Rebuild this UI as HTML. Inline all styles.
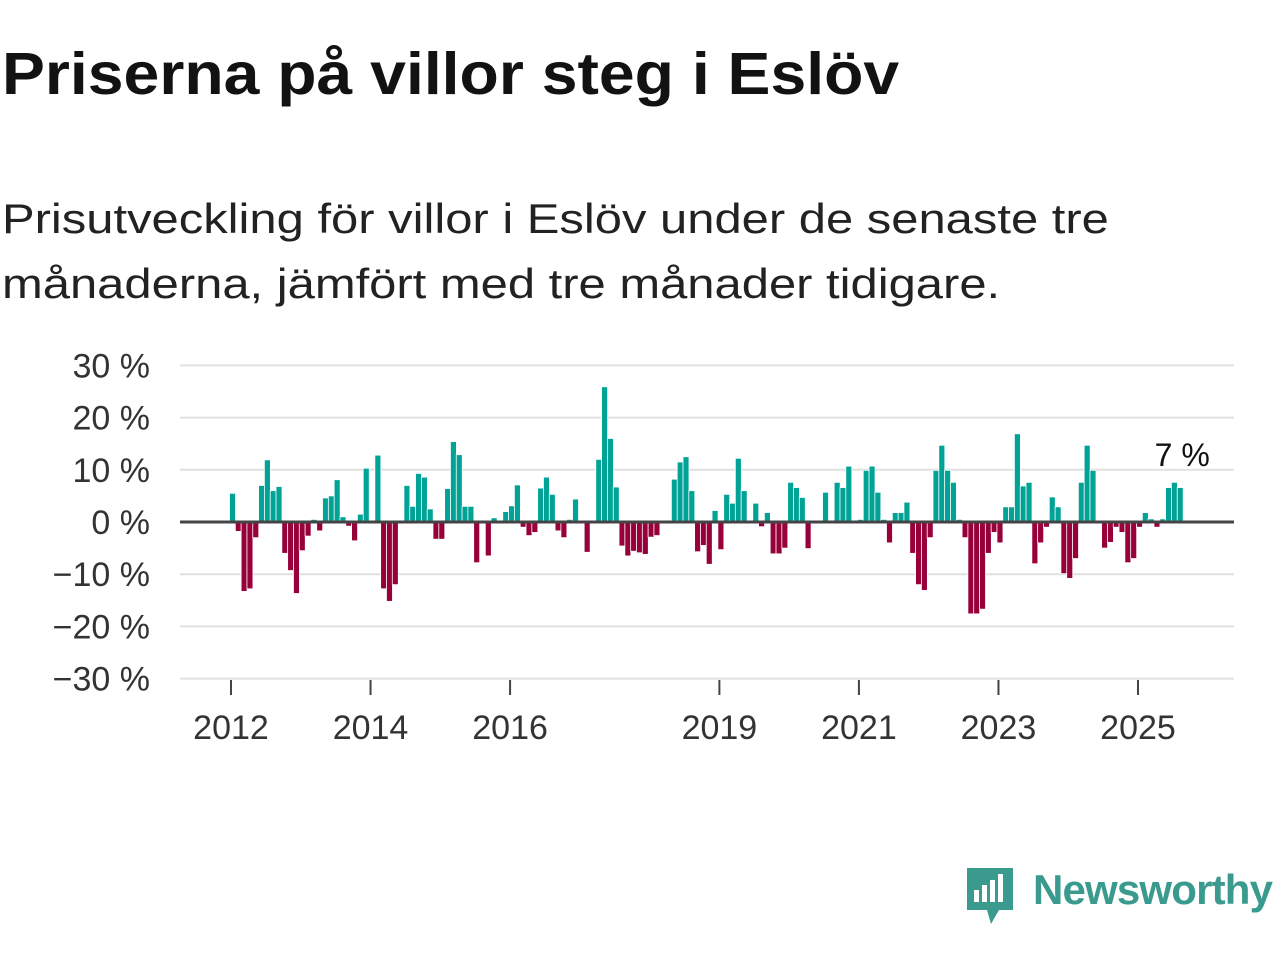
<!DOCTYPE html>
<html><head><meta charset="utf-8"><style>
body{margin:0;width:1280px;height:960px;background:#fff;font-family:"Liberation Sans",sans-serif;overflow:hidden;position:relative}
h1{position:absolute;left:2px;top:40px;margin:0;font-size:59px;font-weight:bold;color:#121212;transform:scaleX(1.09);transform-origin:left top;white-space:nowrap}
.sub{position:absolute;left:2px;top:186px;margin:0;font-size:42px;line-height:65px;color:#222;transform:scaleX(1.165);transform-origin:left top;white-space:nowrap}
svg{position:absolute;left:0;top:0}
</style></head><body>
<h1>Priserna på villor steg i Eslöv</h1>
<p class="sub">Prisutveckling för villor i Eslöv under de senaste tre<br>månaderna, jämfört med tre månader tidigare.</p>
<svg id="chart" width="1280" height="960"></svg>
<script>
const yTicks=[30,20,10,0,-10,-20,-30];
const yearLabels=[2012,2014,2016,2019,2021,2023,2025];
const startYear=2012;
const values=[5.5,-1.8,-13.3,-12.8,-3,7,11.9,6,6.8,-6,-9.3,-13.7,-5.5,-2.7,0.5,-1.7,4.6,5,8.1,1,-0.8,-3.6,1.5,10.3,0,12.8,-12.8,-15.2,-12,0.2,7,3,9.3,8.6,2.5,-3.3,-3.3,6.4,15.4,12.9,3,3,-7.8,0,-6.5,0.8,0,2,3.1,7.1,-1,-2.6,-2,6.5,8.6,5.3,-1.7,-3,0.5,4.4,0,-5.8,0,12,25.9,16,6.7,-4.6,-6.5,-5.6,-5.9,-6.2,-2.9,-2.6,0,0,8.2,11.5,12.5,6,-5.7,-4.5,-8.1,2.2,-5.3,5.3,3.6,12.2,6,0,3.6,-0.9,1.8,-6.1,-6.1,-5,7.6,6.6,4.7,-5.1,0,0,5.7,0,7.6,6.6,10.7,0,0.5,9.9,10.7,5.7,0.5,-4,1.8,1.8,3.8,-6,-12,-13.1,-3,9.9,14.7,9.9,7.6,0.5,-3,-17.6,-17.6,-16.7,-6,-2,-4,2.9,2.9,16.9,6.9,7.6,-8,-4,-1,4.8,2.9,-9.9,-10.8,-7,7.6,14.7,9.9,0,-5,-3.9,-1,-2,-7.8,-7,-1,1.8,0.6,-1,0.6,6.6,7.6,6.6];
const lastLabel="7 %";
const svg=document.getElementById('chart');
const NS='http://www.w3.org/2000/svg';
const y=v=>522-v*5.22;
const x=m=>231+m*(907/156)+1.5;
const xYear=yr=>231+(yr-2012)*(907/13);
function mk(t,a){const e=document.createElementNS(NS,t);for(const k in a)e.setAttribute(k,a[k]);svg.appendChild(e);return e;}
yTicks.forEach(v=>{
  const g=mk('line',{x1:180,x2:1234,y1:y(v),y2:y(v),stroke:'#e0e0e0','stroke-width':2});
  
  
  const t=mk('text',{x:150,y:y(v)+12,'text-anchor':'end','font-size':34,fill:'#333','font-family':'Liberation Sans, sans-serif'});
  t.textContent=(v<0?'\u2212'+(-v):v)+' %';
  
  
});
values.forEach((v,i)=>{
  if(v===0)return;
  const top=v>0?y(v):y(0);
  const r=mk('rect',{x:x(i)-3,y:top,width:6,height:Math.abs(y(v)-y(0)),fill:v>0?'#00a396':'#98003a',stroke:'#fff','stroke-width':0.8});
  
  
});
const z=mk('line',{x1:180,x2:1234,y1:y(0),y2:y(0),stroke:'#444','stroke-width':3});


yearLabels.forEach(yr=>{
  const X=xYear(yr);
  const l=mk('line',{x1:X,x2:X,y1:680,y2:695,stroke:'#444','stroke-width':2});
  
  
  const t=mk('text',{x:X,y:739,'text-anchor':'middle','font-size':34,fill:'#333','font-family':'Liberation Sans, sans-serif'});
  t.textContent=yr;
  
  
});
const lx=x(values.length-1)+2;
const lb=mk('text',{x:lx,y:466,'text-anchor':'middle','font-size':32,fill:'#111',stroke:'#fff','stroke-width':6,'paint-order':'stroke','font-family':'Liberation Sans, sans-serif'});
lb.textContent=lastLabel;


</script>
<svg width="1280" height="960" style="pointer-events:none">
<path d="M967 868h46v42h-14l-8 14-4-14h-20z" fill="#3a9a8e"/>
<rect x="974" y="890" width="5" height="12" fill="#fff"/>
<rect x="982" y="885" width="5" height="17" fill="#fff"/>
<rect x="990" y="880" width="5" height="22" fill="#fff"/>
<rect x="998" y="874" width="5" height="28" fill="#fff"/>
<text x="1033" y="904" font-size="42" font-weight="bold" fill="#3a9a8e" font-family="Liberation Sans, sans-serif" textLength="240">Newsworthy</text>
</svg>
</body></html>
